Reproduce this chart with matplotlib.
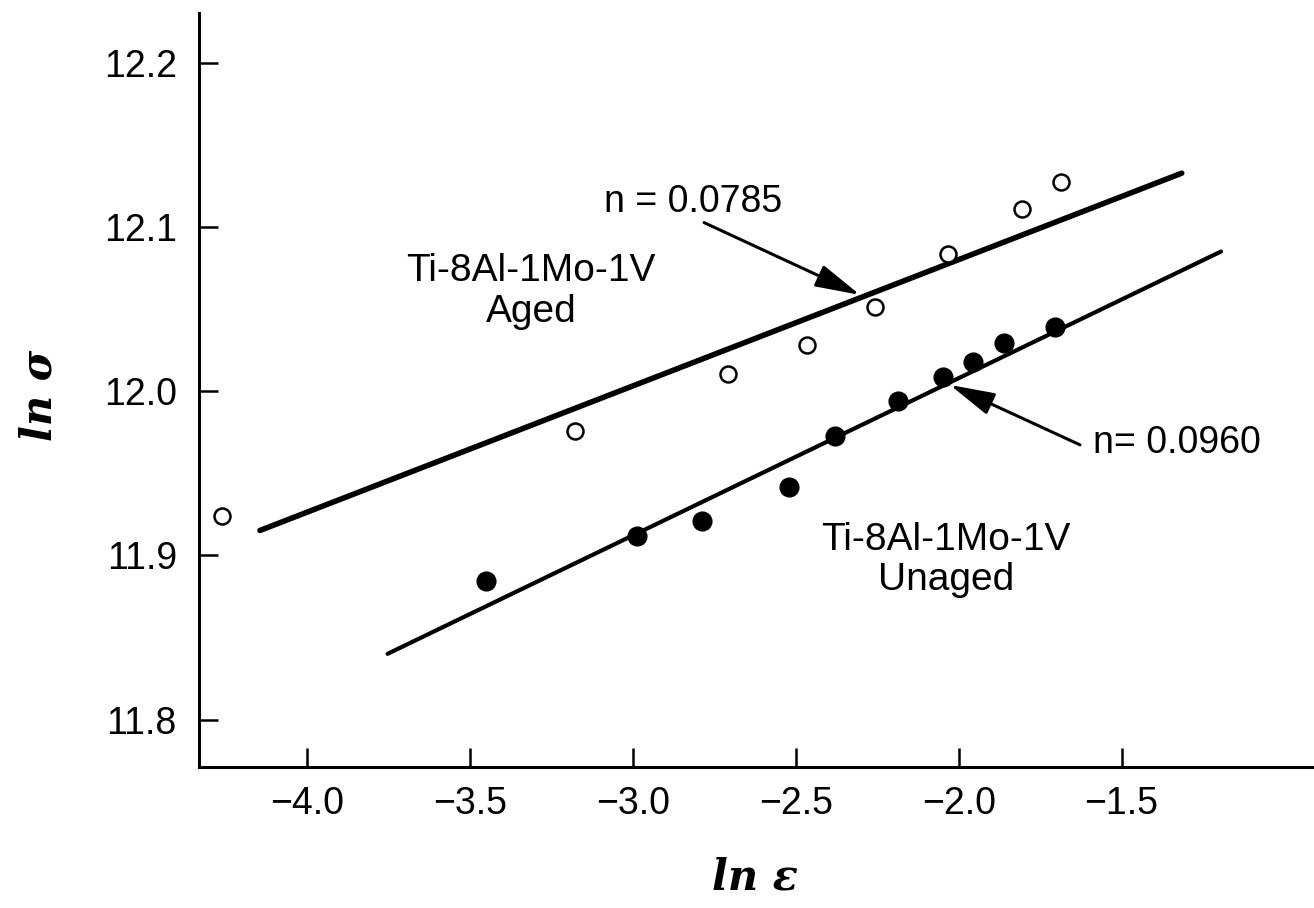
import matplotlib
matplotlib.use("Agg")
import matplotlib.pyplot as plt

# ---- data ----
aged_x = [-4.263, -3.178, -2.709, -2.466, -2.257, -2.033, -1.806, -1.686]
aged_y = [11.924, 11.976, 12.0105, 12.028, 12.0515, 12.0836, 12.111, 12.1274]

unaged_x = [-3.453, -2.987, -2.789, -2.522, -2.380, -2.1865, -2.049, -1.957, -1.861, -1.704]
unaged_y = [11.8847, 11.912, 11.921, 11.9416, 11.9728, 11.9941, 12.0089, 12.018, 12.0296, 12.0393]

aged_fit_x = [-4.146, -1.315]
aged_fit_y = [11.9152, 12.1327]
unaged_fit_x = [-3.754, -1.1944]
unaged_fit_y = [11.8401, 12.085]

x_ticks = [-4.0, -3.5, -3.0, -2.5, -2.0, -1.5]
y_ticks = [11.8, 11.9, 12.0, 12.1, 12.2]
x_ticklabels = ["\u22124.0", "\u22123.5", "\u22123.0", "\u22122.5", "\u22122.0", "\u22121.5"]
y_ticklabels = ["11.8", "11.9", "12.0", "12.1", "12.2"]

aged_label = "Ti-8Al-1Mo-1V\nAged"
unaged_label = "Ti-8Al-1Mo-1V\nUnaged"
aged_n_text = "n = 0.0785"
unaged_n_text = "n= 0.0960"

# ---- figure ----
fig = plt.figure(figsize=(13.14, 9.08), dpi=100)
W, H = 1314, 908
ax = fig.add_axes([199 / W, (H - 767) / H, (1312 - 199) / W, (767 - 13) / H])

plt.rcParams['font.family'] = ['Liberation Sans', 'DejaVu Sans']
FONT = 'Liberation Sans'

ax.plot(aged_fit_x, aged_fit_y, color='black', lw=4.0, solid_capstyle='round', zorder=2)
ax.plot(unaged_fit_x, unaged_fit_y, color='black', lw=3.0, solid_capstyle='round', zorder=2)

ax.plot(aged_x, aged_y, linestyle='none', marker='o', markersize=11.5,
        markerfacecolor='white', markeredgecolor='black', markeredgewidth=1.8, zorder=3)
ax.plot(unaged_x, unaged_y, linestyle='none', marker='o', markersize=13.5,
        markerfacecolor='black', markeredgecolor='black', zorder=3)

ax.set_xlim(-4.3332, -0.915)
ax.set_ylim(11.7712, 12.2302)

ax.set_xticks(x_ticks)
ax.set_xticklabels(x_ticklabels, fontfamily=FONT, fontsize=27)
ax.set_yticks(y_ticks)
ax.set_yticklabels(y_ticklabels, fontfamily=FONT, fontsize=27)
ax.tick_params(axis='both', direction='in', length=14, width=1.8, color='black')
ax.tick_params(axis='x', pad=14)
ax.tick_params(axis='y', pad=16)

for s in ['top', 'right']:
    ax.spines[s].set_visible(False)
for s in ['left', 'bottom']:
    ax.spines[s].set_linewidth(2.2)

# axis labels
ax.set_xlabel("ln \u03b5", fontfamily='DejaVu Serif', fontstyle='italic',
              fontweight='bold', fontsize=30, va='center', ha='center')
ax.xaxis.set_label_coords((755 - 199) / 1113, (767 - 878) / 754)
ax.set_ylabel("ln \u03c3", fontfamily='DejaVu Serif', fontstyle='italic',
              fontweight='bold', fontsize=30, va='center', ha='center')
ax.yaxis.set_label_coords((40 - 199) / 1113, (767 - 395) / 754)

# series labels
ax.text(-3.3136, 12.0607, aged_label, ha='center', va='center',
        fontfamily=FONT, fontsize=28, linespacing=1.15)
ax.text(-2.039, 11.897, unaged_label, ha='center', va='center',
        fontfamily=FONT, fontsize=28, linespacing=1.15)

# slope annotations
arrow = dict(arrowstyle='-|>,head_length=1.1,head_width=0.28', color='black',
             lw=2.2, mutation_scale=25, shrinkA=0, shrinkB=0)
ax.text(-2.816, 12.1154, aged_n_text, ha='center', va='center',
        fontfamily=FONT, fontsize=27)
ax.annotate('', xy=(-2.303, 12.0586), xytext=(-2.782, 12.1026), arrowprops=arrow)
ax.text(-1.331, 11.9685, unaged_n_text, ha='center', va='center',
        fontfamily=FONT, fontsize=27)
ax.annotate('', xy=(-2.027, 12.0038), xytext=(-1.6275, 11.9673), arrowprops=arrow)

fig.savefig("out.png", dpi=100)
